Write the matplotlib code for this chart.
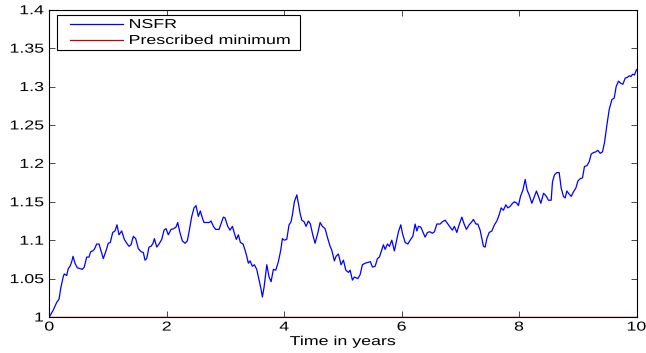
import matplotlib
matplotlib.use("Agg")
import matplotlib.pyplot as plt
from matplotlib.ticker import FixedLocator, FixedFormatter
from matplotlib.patheffects import AbstractPathEffect
from matplotlib.patches import Rectangle
from matplotlib.transforms import Affine2D

plt.rcParams["font.family"] = ["Liberation Sans", "DejaVu Sans"]

# Simulated NSFR path over a 10-year horizon
years = [
    0.000, 0.068, 0.126, 0.165, 0.199, 0.239, 0.256, 0.296, 0.324, 0.353,
    0.382, 0.404, 0.438, 0.477, 0.523, 0.562, 0.596, 0.637, 0.676, 0.705,
    0.739, 0.767, 0.807, 0.847, 0.881, 0.920, 0.961, 1.005, 1.039, 1.080,
    1.119, 1.153, 1.187, 1.233, 1.278, 1.319, 1.358, 1.392, 1.431, 1.472,
    1.516, 1.562, 1.601, 1.630, 1.659, 1.698, 1.733, 1.767, 1.789, 1.830,
    1.869, 1.915, 1.954, 1.988, 2.027, 2.073, 2.119, 2.158, 2.187, 2.221,
    2.266, 2.312, 2.351, 2.385, 2.426, 2.465, 2.499, 2.538, 2.572, 2.606,
    2.635, 2.681, 2.726, 2.755, 2.794, 2.835, 2.891, 2.937, 2.964, 2.993,
    3.039, 3.078, 3.118, 3.152, 3.186, 3.220, 3.254, 3.300, 3.334, 3.363,
    3.390, 3.419, 3.458, 3.492, 3.533, 3.572, 3.607, 3.629, 3.658, 3.704,
    3.743, 3.777, 3.816, 3.857, 3.901, 3.942, 3.969, 4.003, 4.044, 4.083,
    4.118, 4.140, 4.174, 4.215, 4.242, 4.271, 4.300, 4.339, 4.373, 4.412,
    4.446, 4.487, 4.526, 4.572, 4.612, 4.651, 4.697, 4.743, 4.782, 4.811,
    4.855, 4.884, 4.923, 4.969, 5.009, 5.049, 5.094, 5.123, 5.162, 5.196,
    5.254, 5.293, 5.332, 5.378, 5.424, 5.468, 5.503, 5.549, 5.588, 5.622,
    5.651, 5.690, 5.719, 5.758, 5.792, 5.833, 5.877, 5.918, 5.946, 5.986,
    6.014, 6.060, 6.106, 6.145, 6.191, 6.230, 6.259, 6.286, 6.327, 6.361,
    6.400, 6.440, 6.480, 6.525, 6.559, 6.600, 6.656, 6.695, 6.741, 6.787,
    6.826, 6.865, 6.899, 6.940, 6.979, 7.026, 7.065, 7.104, 7.150, 7.196,
    7.223, 7.264, 7.298, 7.337, 7.366, 7.394, 7.423, 7.451, 7.491, 7.537,
    7.581, 7.622, 7.661, 7.695, 7.734, 7.775, 7.809, 7.848, 7.888, 7.922,
    7.963, 7.990, 8.024, 8.065, 8.104, 8.138, 8.172, 8.218, 8.257, 8.296,
    8.330, 8.371, 8.416, 8.457, 8.501, 8.547, 8.569, 8.603, 8.644, 8.683,
    8.717, 8.756, 8.785, 8.814, 8.853, 8.888, 8.927, 8.968, 9.002, 9.041,
    9.080, 9.114, 9.155, 9.194, 9.228, 9.267, 9.308, 9.342, 9.382, 9.421,
    9.455, 9.496, 9.535, 9.581, 9.620, 9.654, 9.693, 9.734, 9.768, 9.808,
    9.847, 9.876, 9.906, 9.932, 9.966, 10.000,
]

nsfr = [
    1.000, 1.009, 1.019, 1.023, 1.039, 1.053, 1.056, 1.054, 1.063, 1.066,
    1.072, 1.079, 1.070, 1.064, 1.063, 1.062, 1.065, 1.078, 1.078, 1.085,
    1.086, 1.088, 1.095, 1.095, 1.086, 1.076, 1.085, 1.096, 1.097, 1.110,
    1.112, 1.120, 1.107, 1.112, 1.101, 1.096, 1.092, 1.094, 1.105, 1.102,
    1.089, 1.085, 1.084, 1.074, 1.076, 1.091, 1.092, 1.096, 1.102, 1.091,
    1.095, 1.101, 1.113, 1.115, 1.107, 1.114, 1.115, 1.117, 1.123, 1.111,
    1.099, 1.096, 1.099, 1.113, 1.131, 1.142, 1.145, 1.131, 1.138, 1.129,
    1.123, 1.123, 1.123, 1.125, 1.118, 1.114, 1.114, 1.124, 1.130, 1.129,
    1.118, 1.113, 1.118, 1.109, 1.101, 1.107, 1.097, 1.095, 1.087, 1.079,
    1.070, 1.073, 1.066, 1.068, 1.062, 1.048, 1.036, 1.026, 1.039, 1.068,
    1.052, 1.046, 1.062, 1.061, 1.072, 1.087, 1.102, 1.100, 1.101, 1.120,
    1.124, 1.133, 1.150, 1.159, 1.148, 1.135, 1.126, 1.124, 1.118, 1.125,
    1.121, 1.107, 1.096, 1.109, 1.123, 1.118, 1.115, 1.102, 1.092, 1.087,
    1.073, 1.079, 1.082, 1.068, 1.074, 1.061, 1.058, 1.061, 1.048, 1.052,
    1.050, 1.055, 1.068, 1.070, 1.071, 1.072, 1.065, 1.066, 1.076, 1.078,
    1.085, 1.094, 1.088, 1.095, 1.092, 1.100, 1.086, 1.101, 1.111, 1.120,
    1.109, 1.097, 1.095, 1.100, 1.105, 1.121, 1.112, 1.118, 1.117, 1.111,
    1.104, 1.110, 1.111, 1.109, 1.111, 1.121, 1.121, 1.124, 1.126, 1.121,
    1.117, 1.113, 1.118, 1.110, 1.120, 1.130, 1.121, 1.114, 1.120, 1.124,
    1.127, 1.121, 1.121, 1.113, 1.102, 1.092, 1.091, 1.102, 1.110, 1.112,
    1.120, 1.125, 1.133, 1.142, 1.139, 1.146, 1.142, 1.144, 1.148, 1.150,
    1.148, 1.145, 1.157, 1.165, 1.179, 1.165, 1.159, 1.148, 1.156, 1.164,
    1.157, 1.148, 1.161, 1.158, 1.152, 1.152, 1.176, 1.185, 1.188, 1.188,
    1.168, 1.157, 1.155, 1.164, 1.160, 1.157, 1.163, 1.168, 1.177, 1.180,
    1.181, 1.196, 1.197, 1.202, 1.212, 1.214, 1.215, 1.217, 1.213, 1.215,
    1.227, 1.250, 1.270, 1.283, 1.285, 1.300, 1.307, 1.304, 1.303, 1.311,
    1.312, 1.314, 1.313, 1.316, 1.315, 1.322,
]

minimum_level = 1.0
horizon = [0, 10]
series_labels = ["NSFR", "Prescribed minimum"]
series_colors = ["#0000ff", "#cc0000"]

x_ticks = [0, 2, 4, 6, 8, 10]
y_ticks = [1.0, 1.05, 1.1, 1.15, 1.2, 1.25, 1.3, 1.35, 1.4]
y_tick_labels = ["1", "1.05", "1.1", "1.15", "1.2", "1.25", "1.3", "1.35", "1.4"]

FONT_SIZE = 9.35
WIDE = 1.37  # horizontal widening of the lettering


class WideText(AbstractPathEffect):
    """Widen glyph outlines horizontally about a fixed anchor of the text."""

    def __init__(self, factor, anchor=0.0):
        super().__init__()
        self.factor = factor
        self.anchor = anchor

    def draw_path(self, renderer, gc, tpath, affine, rgbFace=None):
        ext = tpath.get_extents()
        a = ext.x0 + self.anchor * ext.width
        widen = Affine2D().translate(-a, 0).scale(self.factor, 1).translate(a, 0)
        renderer.draw_path(gc, tpath, widen + affine, rgbFace)


fig = plt.figure(figsize=(6.46, 3.53), dpi=100)
ax = fig.add_axes([0.0763, 0.102, 0.909, 0.8705])

nsfr_line, = ax.plot(years, nsfr, color=series_colors[0], linewidth=0.9)
min_line, = ax.plot(horizon, [minimum_level, minimum_level],
                    color=series_colors[1], linewidth=1.0)

ax.set_xlim(0, 10)
ax.set_ylim(1.0, 1.4)
ax.xaxis.set_major_locator(FixedLocator(x_ticks))
ax.yaxis.set_major_locator(FixedLocator(y_ticks))
ax.yaxis.set_major_formatter(FixedFormatter(y_tick_labels))
ax.tick_params(direction="in", length=4, width=0.5, top=True, right=True,
               labelsize=FONT_SIZE, colors="black")
ax.tick_params(axis="x", pad=3.3)
ax.tick_params(axis="y", pad=4)
for s in ax.spines.values():
    s.set_linewidth(0.8)

for lbl in ax.get_xticklabels():
    lbl.set_path_effects([WideText(WIDE, 0.5)])
for lbl in ax.get_yticklabels():
    lbl.set_path_effects([WideText(WIDE, 1.0)])

xl = ax.set_xlabel("Time in years", fontsize=FONT_SIZE, labelpad=1.8)
xl.set_path_effects([WideText(WIDE, 0.5)])

# Legend box in the upper-left corner
ax.add_patch(Rectangle((0.0136, 0.8698), 0.4133, 0.1120, transform=ax.transAxes,
                       facecolor="white", edgecolor="black", linewidth=0.8,
                       zorder=5))
rows_y = [0.9545, 0.9024]
base_y = [0.9404, 0.8884]
for label, color, ly, by in zip(series_labels, series_colors, rows_y, base_y):
    ax.plot([0.0353, 0.1255], [ly, ly], color=color, linewidth=0.9,
            transform=ax.transAxes, zorder=6)
    t = ax.text(0.1357, by, label, transform=ax.transAxes, fontsize=FONT_SIZE,
                ha="left", va="baseline", zorder=6)
    t.set_path_effects([WideText(WIDE, 0.0)])

fig.savefig("out.png", dpi=100)
